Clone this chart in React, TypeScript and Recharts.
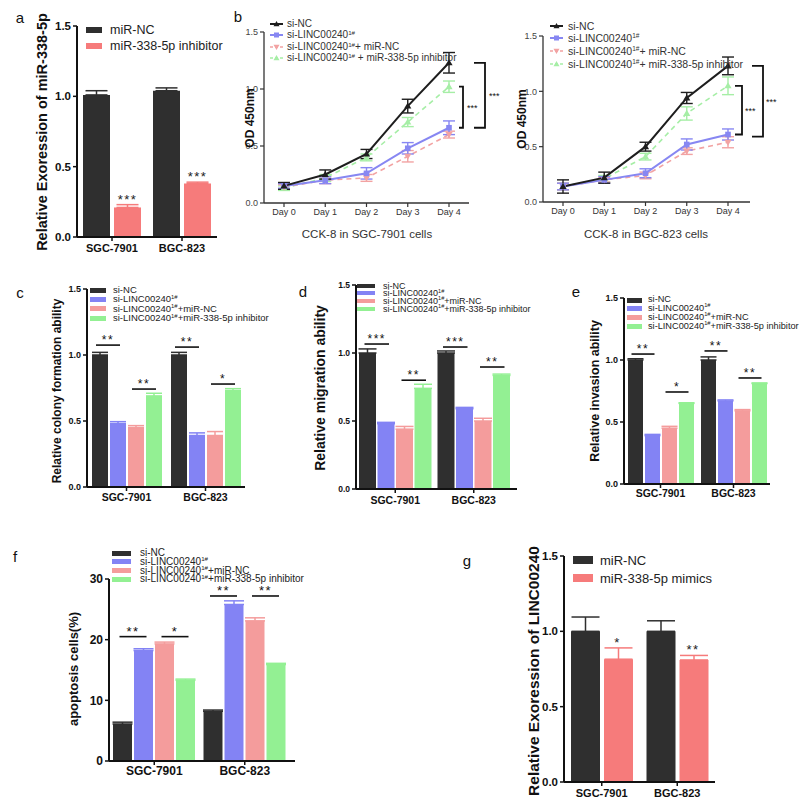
import React from "react";
import { BarChart, Bar, LineChart, Line, XAxis, YAxis, ErrorBar, Legend } from "recharts";

const FONT = '"Liberation Sans", Arial, Helvetica, sans-serif';

// categories
const groups = ["SGC-7901", "BGC-823"];
const days = ["Day 0", "Day 1", "Day 2", "Day 3", "Day 4"];

// colours
const BLACK = "#2f2f2f";
const BLUE = "#8383f4";
const PINK = "#f49c9c";
const GREEN = "#93f093";
const SALMON = "#f67b7b";

// panel a: miR-338-5p expression
const aNC = [1.01, 1.04];
const aNCErr = [0.03, 0.02];
const aInh = [0.21, 0.38];
const aInhErr = [0.02, 0.01];

// panel b: CCK-8 (SGC-7901)
const bL_nc = [0.15, 0.25, 0.43, 0.85, 1.23];
const bL_ncE = [0.03, 0.04, 0.04, 0.06, 0.09];
const bL_si = [0.15, 0.2, 0.26, 0.48, 0.66];
const bL_siE = [0.02, 0.03, 0.05, 0.05, 0.06];
const bL_mn = [0.14, 0.2, 0.22, 0.41, 0.6];
const bL_mnE = [0.02, 0.03, 0.03, 0.05, 0.03];
const bL_in = [0.13, 0.22, 0.4, 0.71, 1.02];
const bL_inE = [0.02, 0.03, 0.03, 0.04, 0.05];
// panel b: CCK-8 (BGC-823)
const bR_nc = [0.14, 0.22, 0.5, 0.94, 1.23];
const bR_ncE = [0.06, 0.05, 0.04, 0.05, 0.08];
const bR_si = [0.14, 0.2, 0.26, 0.52, 0.61];
const bR_siE = [0.03, 0.03, 0.04, 0.05, 0.05];
const bR_mn = [0.14, 0.2, 0.24, 0.46, 0.54];
const bR_mnE = [0.03, 0.02, 0.03, 0.03, 0.05];
const bR_in = [0.14, 0.21, 0.41, 0.8, 1.05];
const bR_inE = [0.03, 0.03, 0.03, 0.06, 0.08];

// panel c: colony formation  [si-NC, si-LINC, +miR-NC, +inhibitor] per group
const cSGC = [1.0, 0.48, 0.45, 0.69];
const cSGCErr = [0.02, 0.015, 0.015, 0.02];
const cBGC = [1.0, 0.39, 0.39, 0.73];
const cBGCErr = [0.02, 0.02, 0.03, 0.015];
// panel d: migration
const dSGC = [1.0, 0.48, 0.44, 0.74];
const dSGCErr = [0.03, 0.01, 0.02, 0.03];
const dBGC = [1.0, 0.59, 0.5, 0.835];
const dBGCErr = [0.015, 0.01, 0.02, 0.01];
// panel e: invasion
const eSGC = [1.0, 0.39, 0.45, 0.65];
const eSGCErr = [0.01, 0.01, 0.015, 0.005];
const eBGC = [1.0, 0.67, 0.59, 0.81];
const eBGCErr = [0.025, 0.008, 0.01, 0.005];
// panel f: apoptosis (%)
const fSGC = [6.1, 18.2, 19.3, 13.3];
const fSGCErr = [0.3, 0.3, 0.3, 0.2];
const fBGC = [8.2, 25.8, 23.1, 15.9];
const fBGCErr = [0.2, 0.6, 0.5, 0.2];
// panel g: LINC00240 expression
const gNC = [1.0, 1.0];
const gNCErr = [0.095, 0.07];
const gMim = [0.815, 0.81];
const gMimErr = [0.075, 0.03];

const ticks15 = [0, 0.5, 1, 1.5];
const ticks30 = [0, 10, 20, 30];
const fmt1 = (v: number) => v.toFixed(1);
const fmt0 = (v: number) => String(v);

type Geo = { x0: number; x1: number; yTop: number; yBot: number; padL?: number; padR?: number };
const M = { top: 20, left: 60, right: 14, bottom: 40 };

function box(g: Geo) {
  return {
    left: g.x0 - M.left,
    top: g.yTop - M.top,
    width: g.x1 - g.x0 + M.left + M.right,
    height: g.yBot - g.yTop + M.top + M.bottom,
  };
}
const yPx = (g: Geo, max: number, v: number) => g.yBot - (v / max) * (g.yBot - g.yTop);
function barCenter(g: Geo, n: number, bs: number, gap: number, gi: number, bi: number) {
  const band = (g.x1 - g.x0 - (g.padL || 0) - (g.padR || 0)) / 2;
  const off = Math.floor((band - (n * bs + (n - 1) * gap)) / 2);
  return g.x0 + (g.padL || 0) + gi * band + off + bi * (bs + gap) + bs / 2;
}

const sup = (s: string) => (
  <span style={{ fontSize: "0.62em", position: "relative", top: "-0.55em" }}>{s}</span>
);
const fourLabels = [
  <>si-NC</>,
  <>si-LINC00240{sup("1#")}</>,
  <>si-LINC00240{sup("1#")}+miR-NC</>,
  <>si-LINC00240{sup("1#")}+miR-338-5p inhibitor</>,
];
const fourColors = [BLACK, BLUE, PINK, GREEN];

type LegendSpec = { sx: number; sw: number; sh: number; tx: number; rows: number[]; fs: number };

type Series = { name: string; label: React.ReactNode; color: string; values: number[]; errs: number[] };

type BarPanelProps = {
  geo: Geo;
  max: number;
  ticks: number[];
  fmt: (v: number) => string;
  series: Series[];
  barSize: number;
  barGap: number;
  capW: number;
  yFs: number;
  xFs: number;
  xMargin: number;
  legend: LegendSpec;
};

function BarPanel(p: BarPanelProps) {
  const b = box(p.geo);
  const data = groups.map((g, gi) => {
    const row: any = { group: g };
    p.series.forEach((s, si) => {
      row["v" + si] = s.values[gi];
      row["e" + si] = [0, s.errs[gi]];
    });
    return row;
  });
  const L = p.legend;
  return (
    <div style={{ position: "absolute", left: b.left, top: b.top }}>
      <BarChart
        width={b.width}
        height={b.height}
        data={data}
        margin={{ top: M.top, right: M.right, left: 0, bottom: 0 }}
        barGap={p.barGap}
      >
        <XAxis
          dataKey="group"
          height={M.bottom}
          interval={0}
          padding={{ left: p.geo.padL || 0, right: p.geo.padR || 0 }}
          axisLine={{ stroke: "#111", strokeWidth: 2 }}
          tickLine={{ stroke: "#111", strokeWidth: 1.5 }}
          tickSize={4}
          tickMargin={p.xMargin}
          tick={{ fontSize: p.xFs, fontWeight: 700, fill: "#111", fontFamily: FONT }}
        />
        <YAxis
          width={M.left}
          domain={[0, p.max]}
          ticks={p.ticks}
          tickFormatter={p.fmt}
          axisLine={{ stroke: "#111", strokeWidth: 2 }}
          tickLine={{ stroke: "#111", strokeWidth: 1.5 }}
          tickSize={4}
          tickMargin={2}
          tick={{ fontSize: p.yFs, fontWeight: 700, fill: "#111", fontFamily: FONT }}
        />
        {p.series.map((s, si) => (
          <Bar key={si} dataKey={"v" + si} name={s.name} fill={s.color} barSize={p.barSize} isAnimationActive={false}>
            <ErrorBar dataKey={"e" + si} width={p.capW} stroke={s.color} strokeWidth={1.5} />
          </Bar>
        ))}
        <Legend
          layout="vertical"
          align="center"
          verticalAlign="middle"
          wrapperStyle={{ left: 0, top: 0, width: b.width, height: b.height, pointerEvents: "none" }}
          content={() => (
            <div style={{ position: "relative", width: b.width, height: b.height, fontFamily: FONT }}>
              {p.series.map((s, i) => (
                <React.Fragment key={i}>
                  <div
                    style={{
                      position: "absolute",
                      left: L.sx - b.left,
                      top: L.rows[i] - b.top - L.sh / 2,
                      width: L.sw,
                      height: L.sh,
                      background: s.color,
                    }}
                  />
                  <div
                    style={{
                      position: "absolute",
                      left: L.tx - b.left,
                      top: L.rows[i] - b.top,
                      transform: "translateY(-50%)",
                      fontSize: L.fs,
                      lineHeight: 1,
                      whiteSpace: "nowrap",
                      color: "#222",
                    }}
                  >
                    {s.label}
                  </div>
                </React.Fragment>
              ))}
            </div>
          )}
        />
      </BarChart>
    </div>
  );
}

// line marker shapes
function marker(kind: string, color: string) {
  return (props: any) => {
    const { cx, cy, index } = props;
    if (cx == null || cy == null) return <g key={index} />;
    if (kind === "sq") return <rect key={index} x={cx - 2.8} y={cy - 2.8} width={5.6} height={5.6} fill={color} />;
    const s = 3.6;
    const pts =
      kind === "down"
        ? `${cx - s},${cy - s * 0.7} ${cx + s},${cy - s * 0.7} ${cx},${cy + s}`
        : `${cx - s},${cy + s * 0.7} ${cx + s},${cy + s * 0.7} ${cx},${cy - s}`;
    return <polygon key={index} points={pts} fill={color} />;
  };
}

type LineSeries = { name: string; color: string; values: number[]; errs: number[]; dash?: string; mk: string; sw: number };

function LinePanel({ geo, series, legend }: { geo: Geo; series: LineSeries[]; legend: LegendSpec }) {
  const b = box(geo);
  const data = days.map((d, i) => {
    const row: any = { day: d };
    series.forEach((s, si) => {
      row["v" + si] = s.values[i];
      row["e" + si] = s.errs[i];
    });
    return row;
  });
  const L = legend;
  return (
    <div style={{ position: "absolute", left: b.left, top: b.top }}>
      <LineChart width={b.width} height={b.height} data={data} margin={{ top: M.top, right: M.right, left: 0, bottom: 0 }}>
        <XAxis
          dataKey="day"
          height={M.bottom}
          interval={0}
          padding={{ left: geo.padL || 0, right: geo.padR || 0 }}
          axisLine={{ stroke: "#333", strokeWidth: 1.3 }}
          tickLine={{ stroke: "#333", strokeWidth: 1.2 }}
          tickSize={4}
          tickMargin={2}
          tick={{ fontSize: 9, fill: "#333", fontFamily: FONT }}
        />
        <YAxis
          width={M.left}
          domain={[0, 1.5]}
          ticks={ticks15}
          tickFormatter={fmt1}
          axisLine={{ stroke: "#333", strokeWidth: 1.3 }}
          tickLine={{ stroke: "#333", strokeWidth: 1.2 }}
          tickSize={4}
          tickMargin={2}
          tick={{ fontSize: 9, fill: "#444", fontFamily: FONT }}
        />
        {[3, 2, 1, 0].map((si) => {
          const s = series[si];
          return (
            <Line
              key={si}
              dataKey={"v" + si}
              name={s.name}
              stroke={s.color}
              strokeWidth={s.sw}
              strokeDasharray={s.dash}
              dot={marker(s.mk, s.color)}
              activeDot={false}
              isAnimationActive={false}
            >
              <ErrorBar dataKey={"e" + si} width={6} stroke={s.color} strokeWidth={1.4} />
            </Line>
          );
        })}
        <Legend
          layout="vertical"
          align="center"
          verticalAlign="middle"
          wrapperStyle={{ left: 0, top: 0, width: b.width, height: b.height, pointerEvents: "none" }}
          content={() => (
            <div style={{ position: "relative", width: b.width, height: b.height, fontFamily: FONT }}>
              {series.map((s, i) => (
                <React.Fragment key={i}>
                  <svg
                    width={L.sw}
                    height={10}
                    style={{ position: "absolute", left: L.sx - b.left, top: L.rows[i] - b.top - 5 }}
                  >
                    <line x1={0} y1={5} x2={L.sw} y2={5} stroke={s.color} strokeWidth={s.sw} strokeDasharray={s.dash ? "3 2" : undefined} />
                    {s.mk === "sq" ? (
                      <rect x={L.sw / 2 - 2.5} y={2.5} width={5} height={5} fill={s.color} />
                    ) : (
                      <polygon
                        points={
                          s.mk === "down"
                            ? `${L.sw / 2 - 3},2.8 ${L.sw / 2 + 3},2.8 ${L.sw / 2},8`
                            : `${L.sw / 2 - 3},7.2 ${L.sw / 2 + 3},7.2 ${L.sw / 2},2`
                        }
                        fill={s.color}
                      />
                    )}
                  </svg>
                  <div
                    style={{
                      position: "absolute",
                      left: L.tx - b.left,
                      top: L.rows[i] - b.top,
                      transform: "translateY(-50%)",
                      fontSize: L.fs,
                      lineHeight: 1,
                      whiteSpace: "nowrap",
                      color: "#333",
                    }}
                  >
                    {s.name === "si-NC" ? (
                      "si-NC"
                    ) : s.name === "si" ? (
                      <>si-LINC00240{sup("1#")}</>
                    ) : s.name === "mn" ? (
                      <>si-LINC00240{sup("1#")}+ miR-NC</>
                    ) : (
                      <>si-LINC00240{sup("1#")}{L.sx < 500 ? " + " : "+ "}miR-338-5p inhibitor</>
                    )}
                  </div>
                </React.Fragment>
              ))}
            </div>
          )}
        />
      </LineChart>
    </div>
  );
}

// geometry of each panel in page pixels
const gA: Geo = { x0: 77, x1: 217, yTop: 26, yBot: 237 };
const gBL: Geo = { x0: 264, x1: 469, yTop: 32, yBot: 203, padL: 20, padR: 20 };
const gBR: Geo = { x0: 543, x1: 750, yTop: 36, yBot: 202, padL: 20, padR: 22 };
const gC: Geo = { x0: 87, x1: 245, yTop: 289, yBot: 487 };
const gD: Geo = { x0: 356, x1: 517, yTop: 285, yBot: 489, padR: 4 };
const gE: Geo = { x0: 624, x1: 770, yTop: 298, yBot: 484 };
const gF: Geo = { x0: 109, x1: 295, yTop: 579, yBot: 761, padR: 5 };
const gG: Geo = { x0: 564, x1: 715, yTop: 556, yBot: 782 };

function fourSeries(sgc: number[], sgcE: number[], bgc: number[], bgcE: number[]): Series[] {
  return [0, 1, 2, 3].map((i) => ({
    name: "s" + i,
    label: fourLabels[i],
    color: fourColors[i],
    values: [sgc[i], bgc[i]],
    errs: [sgcE[i], bgcE[i]],
  }));
}

function lineSeries(nc: number[], ncE: number[], si: number[], siE: number[], mn: number[], mnE: number[], inh: number[], inhE: number[]): LineSeries[] {
  return [
    { name: "si-NC", color: "#1e1e1e", values: nc, errs: ncE, mk: "up", sw: 2 },
    { name: "si", color: "#8787f2", values: si, errs: siE, mk: "sq", sw: 2 },
    { name: "mn", color: "#f2a3a3", values: mn, errs: mnE, mk: "down", sw: 1.6, dash: "5 4" },
    { name: "in", color: "#a6eea6", values: inh, errs: inhE, mk: "up", sw: 1.6, dash: "5 4" },
  ];
}

type Sig = { g: number; i: number; j: number; v: number; t: string };
const sigC: Sig[] = [
  { g: 0, i: 0, j: 1, v: 1.075, t: "**" },
  { g: 0, i: 2, j: 3, v: 0.742, t: "**" },
  { g: 1, i: 0, j: 1, v: 1.06, t: "**" },
  { g: 1, i: 2, j: 3, v: 0.78, t: "*" },
];
const sigD: Sig[] = [
  { g: 0, i: 0, j: 1, v: 1.066, t: "***" },
  { g: 0, i: 2, j: 3, v: 0.8, t: "**" },
  { g: 1, i: 0, j: 1, v: 1.044, t: "***" },
  { g: 1, i: 2, j: 3, v: 0.897, t: "**" },
];
const sigE: Sig[] = [
  { g: 0, i: 0, j: 1, v: 1.048, t: "**" },
  { g: 0, i: 2, j: 3, v: 0.742, t: "*" },
  { g: 1, i: 0, j: 1, v: 1.073, t: "**" },
  { g: 1, i: 2, j: 3, v: 0.855, t: "**" },
];
const sigF: Sig[] = [
  { g: 0, i: 0, j: 1, v: 20.5, t: "**" },
  { g: 0, i: 2, j: 3, v: 20.5, t: "*" },
  { g: 1, i: 0, j: 1, v: 27.2, t: "**" },
  { g: 1, i: 2, j: 3, v: 27.2, t: "**" },
];

function SigMarks({ geo, max, bs, gap, sigs, fs }: { geo: Geo; max: number; bs: number; gap: number; sigs: Sig[]; fs: number }) {
  return (
    <g>
      {sigs.map((s, k) => {
        const xa = barCenter(geo, 4, bs, gap, s.g, s.i) - 3;
        const xb = barCenter(geo, 4, bs, gap, s.g, s.j) + 3;
        const y = yPx(geo, max, s.v);
        return (
          <g key={k}>
            <line x1={xa} y1={y} x2={xb} y2={y} stroke="#111" strokeWidth={1.6} />
            <text x={(xa + xb) / 2} y={y - 1} textAnchor="middle" fontSize={fs} fontFamily={FONT} fill="#111" letterSpacing={1.5}>
              {s.t}
            </text>
          </g>
        );
      })}
    </g>
  );
}

function StarsOver({ geo, max, bs, gap, vals, errs, texts }: { geo: Geo; max: number; bs: number; gap: number; vals: number[]; errs: number[]; texts: string[] }) {
  return (
    <g>
      {vals.map((v, gi) => (
        <text
          key={gi}
          x={barCenter(geo, 2, bs, gap, gi, 1)}
          y={yPx(geo, max, v + errs[gi]) - 1}
          textAnchor="middle"
          fontSize={13}
          fontFamily={FONT}
          fill="#222"
          letterSpacing={1.5}
        >
          {texts[gi]}
        </text>
      ))}
    </g>
  );
}

function Bracket({ geo, top, bot, xv, xt, tx, fs }: { geo: Geo; top: number; bot: number; xv: number; xt: number; tx: number; fs: number }) {
  const y1 = yPx(geo, 1.5, top);
  const y2 = yPx(geo, 1.5, bot);
  return (
    <g>
      <polyline points={`${xt},${y1} ${xv},${y1} ${xv},${y2} ${xt},${y2}`} fill="none" stroke="#111" strokeWidth={1.8} />
      <text x={tx} y={(y1 + y2) / 2 + 4} fontSize={fs} fontFamily={FONT} fill="#111">
        ***
      </text>
    </g>
  );
}

function VText({ x, y, fs, children, weight = 700 }: { x: number; y: number; fs: number; children: React.ReactNode; weight?: number }) {
  return (
    <text
      transform={`translate(${x},${y}) rotate(-90)`}
      textAnchor="middle"
      dominantBaseline="central"
      fontSize={fs}
      fontWeight={weight}
      fontFamily={FONT}
      fill="#111"
    >
      {children}
    </text>
  );
}

function Letter({ x, y, t }: { x: number; y: number; t: string }) {
  return (
    <text x={x} y={y} textAnchor="middle" dominantBaseline="central" fontSize={15} fontFamily={FONT} fill="#111">
      {t}
    </text>
  );
}

export default function App() {
  const seriesA: Series[] = [
    { name: "miR-NC", label: "miR-NC", color: BLACK, values: aNC, errs: aNCErr },
    { name: "miR-338-5p inhibitor", label: "miR-338-5p inhibitor", color: SALMON, values: aInh, errs: aInhErr },
  ];
  const seriesG: Series[] = [
    { name: "miR-NC", label: "miR-NC", color: BLACK, values: gNC, errs: gNCErr },
    { name: "miR-338-5p mimics", label: "miR-338-5p mimics", color: SALMON, values: gMim, errs: gMimErr },
  ];
  return (
    <div style={{ position: "absolute", left: 0, top: 0, width: 800, height: 801, background: "#fff", fontFamily: FONT, overflow: "hidden" }}>
      <BarPanel
        geo={gA} max={1.5} ticks={ticks15} fmt={fmt1} series={seriesA}
        barSize={27} barGap={4} capW={11} yFs={11.5} xFs={11} xMargin={3}
        legend={{ sx: 86, sw: 16, sh: 6, tx: 110, rows: [30, 46], fs: 12.5 }}
      />
      <LinePanel
        geo={gBL}
        series={lineSeries(bL_nc, bL_ncE, bL_si, bL_siE, bL_mn, bL_mnE, bL_in, bL_inE)}
        legend={{ sx: 270, sw: 13, sh: 5, tx: 287, rows: [24, 35, 47, 58], fs: 10 }}
      />
      <LinePanel
        geo={gBR}
        series={lineSeries(bR_nc, bR_ncE, bR_si, bR_siE, bR_mn, bR_mnE, bR_in, bR_inE)}
        legend={{ sx: 550, sw: 13, sh: 5, tx: 568, rows: [26, 38, 51, 64], fs: 10.5 }}
      />
      <BarPanel
        geo={gC} max={1.5} ticks={ticks15} fmt={fmt1} series={fourSeries(cSGC, cSGCErr, cBGC, cBGCErr)}
        barSize={16} barGap={2} capW={8} yFs={9} xFs={10.5} xMargin={3}
        legend={{ sx: 90, sw: 16, sh: 5, tx: 113, rows: [290, 299, 308.5, 318], fs: 9.5 }}
      />
      <BarPanel
        geo={gD} max={1.5} ticks={ticks15} fmt={fmt1} series={fourSeries(dSGC, dSGCErr, dBGC, dBGCErr)}
        barSize={17} barGap={1.5} capW={9} yFs={8.5} xFs={10.5} xMargin={4}
        legend={{ sx: 357, sw: 18, sh: 4, tx: 383, rows: [285.5, 293, 300.5, 308.5], fs: 9 }}
      />
      <BarPanel
        geo={gE} max={1.5} ticks={ticks15} fmt={fmt1} series={fourSeries(eSGC, eSGCErr, eBGC, eBGCErr)}
        barSize={15} barGap={2} capW={8} yFs={9} xFs={10.5} xMargin={2}
        legend={{ sx: 627, sw: 15, sh: 5, tx: 648, rows: [300, 308.5, 317.5, 326.5], fs: 9.2 }}
      />
      <BarPanel
        geo={gF} max={30} ticks={ticks30} fmt={fmt0} series={fourSeries(fSGC, fSGCErr, fBGC, fBGCErr)}
        barSize={19} barGap={2} capW={10} yFs={12} xFs={12} xMargin={1}
        legend={{ sx: 112, sw: 19, sh: 5, tx: 140, rows: [553, 561.5, 570.5, 579], fs: 10 }}
      />
      <BarPanel
        geo={gG} max={1.5} ticks={ticks15} fmt={fmt1} series={seriesG}
        barSize={29} barGap={4} capW={14} yFs={11.5} xFs={11} xMargin={3}
        legend={{ sx: 573, sw: 20, sh: 8, tx: 600, rows: [560, 578], fs: 13 }}
      />
      <svg width={800} height={801} style={{ position: "absolute", left: 0, top: 0, pointerEvents: "none" }}>
        <Letter x={20} y={17} t="a" />
        <Letter x={238} y={16} t="b" />
        <Letter x={20} y={292} t="c" />
        <Letter x={303} y={291} t="d" />
        <Letter x={576} y={291} t="e" />
        <Letter x={15} y={556} t="f" />
        <Letter x={467} y={560} t="g" />

        <VText x={42} y={132} fs={14.5}>Relative Exoression of miR-338-5p</VText>
        <VText x={250} y={118} fs={12}>OD 450nm</VText>
        <VText x={522} y={119} fs={12}>OD 450nm</VText>
        <VText x={57} y={391} fs={12}>Relative colony formation ability</VText>
        <VText x={320} y={388} fs={14}>Relative migration ability</VText>
        <VText x={595} y={391} fs={12.5}>Relative invasion ability</VText>
        <VText x={73} y={669} fs={13} weight={600}>apoptosis cells(%)</VText>
        <VText x={533} y={671} fs={15.5}>Relative Exoression of LINC00240</VText>

        <text x={367} y={238} textAnchor="middle" fontSize={11.5} fontFamily={FONT} fill="#333">CCK-8 in SGC-7901 cells</text>
        <text x={646} y={238} textAnchor="middle" fontSize={11.5} fontFamily={FONT} fill="#333">CCK-8 in BGC-823 cells</text>

        <Bracket geo={gBL} top={1.02} bot={0.66} xv={463} xt={459} tx={467} fs={9} />
        <Bracket geo={gBL} top={1.23} bot={0.66} xv={485} xt={474} tx={489} fs={9} />
        <Bracket geo={gBR} top={1.05} bot={0.61} xv={742} xt={735} tx={745} fs={9} />
        <Bracket geo={gBR} top={1.23} bot={0.59} xv={763} xt={752} tx={766} fs={9} />

        <StarsOver geo={gA} max={1.5} bs={27} gap={4} vals={aInh} errs={aInhErr} texts={["***", "***"]} />
        <StarsOver geo={gG} max={1.5} bs={29} gap={4} vals={gMim} errs={gMimErr} texts={["*", "**"]} />

        <SigMarks geo={gC} max={1.5} bs={16} gap={2} sigs={sigC} fs={12} />
        <SigMarks geo={gD} max={1.5} bs={17} gap={1.5} sigs={sigD} fs={12} />
        <SigMarks geo={gE} max={1.5} bs={15} gap={2} sigs={sigE} fs={12} />
        <SigMarks geo={gF} max={30} bs={19} gap={2} sigs={sigF} fs={13} />
      </svg>
    </div>
  );
}
